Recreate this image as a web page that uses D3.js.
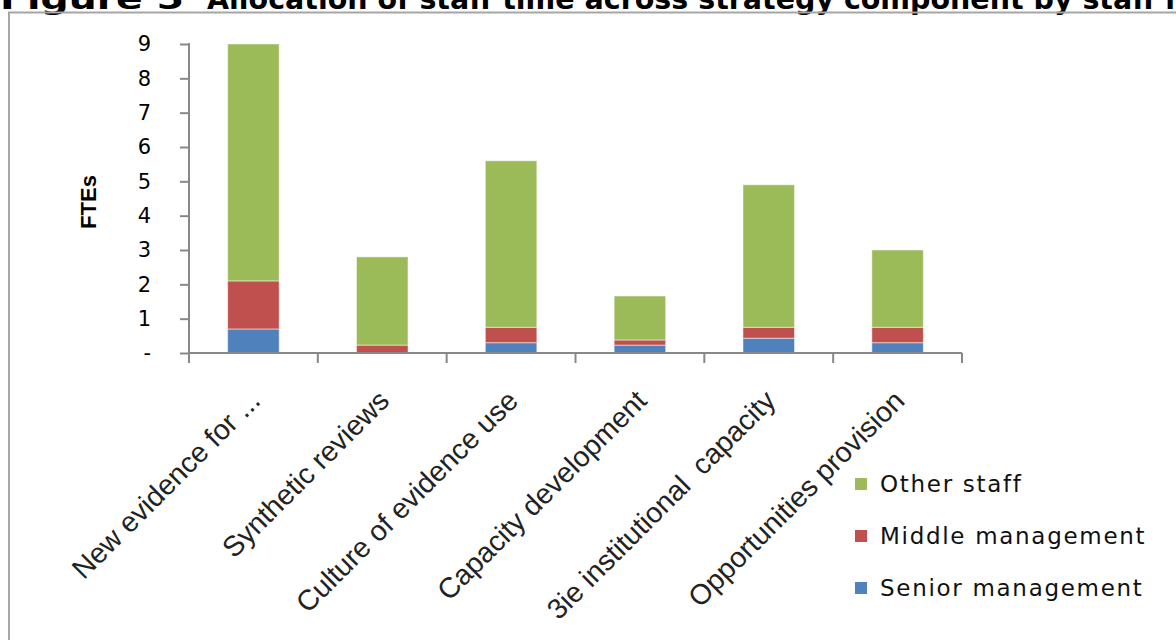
<!DOCTYPE html>
<html>
<head>
<meta charset="utf-8">
<script src="https://cdn.jsdelivr.net/npm/d3@7"></script>
<style>
  body { margin: 0; background: #fff; }
  svg { display: block; }
  text { white-space: pre; }
</style>
</head>
<body>
<div id="chart"></div>
<script>
// chart values
var categories = ["New evidence for ...", "Synthetic reviews", "Culture of evidence use",
    "Capacity development", "3ie institutional  capacity", "Opportunities provision"];
var senior = [0.7, 0, 0.3, 0.23, 0.43, 0.3];
var middle = [1.4, 0.23, 0.45, 0.15, 0.32, 0.45];
var other = [6.9, 2.57, 4.85, 1.28, 4.15, 2.25];
var yTicks = [0, 1, 2, 3, 4, 5, 6, 7, 8, 9];
var seriesNames = ["Senior management", "Middle management", "Other staff"];

var width = 1176, height = 640;
var plot = { left: 189, right: 962, top: 44, bottom: 353 };

var svg = d3.select("#chart").append("svg")
    .attr("width", width)
    .attr("height", height);

// title, mostly cut off by the top edge
svg.append("text")
    .attr("x", 0)
    .attr("y", 9)
    .attr("textLength", 184)
    .attr("lengthAdjust", "spacingAndGlyphs")
    .attr("font-family", "DejaVu Sans")
    .attr("font-weight", "bold")
    .attr("font-size", 29)
    .text("Figure 5");
svg.append("text")
    .attr("x", 207)
    .attr("y", 9)
    .attr("font-family", "DejaVu Sans")
    .attr("font-weight", "bold")
    .attr("font-size", 28.5)
    .text("Allocation of staff time across strategy component by staff level");

// chart frame
svg.append("rect")
    .attr("x", 9)
    .attr("y", 12.5)
    .attr("width", 1300)
    .attr("height", 800)
    .attr("fill", "none")
    .attr("stroke", "#a6a6a6")
    .attr("stroke-width", 2);

var table = categories.map(function (c, i) {
    return { cat: c, "Senior management": senior[i], "Middle management": middle[i], "Other staff": other[i] };
});
var stacked = d3.stack().keys(seriesNames)(table);

var color = d3.scaleOrdinal()
    .domain(seriesNames)
    .range(["#4f81bd", "#c0504d", "#9bbb59"]);

var x = d3.scaleBand()
    .domain(categories)
    .range([plot.left, plot.right])
    .paddingInner(0.6)
    .paddingOuter(0.3);

var y = d3.scaleLinear()
    .domain([0, 9])
    .range([plot.bottom, plot.top]);

// bars
svg.append("g").selectAll("g")
    .data(stacked)
    .enter()
    .append("g")
    .attr("fill", function (d) { return color(d.key); })
    .selectAll("rect")
    .data(function (d) { return d; })
    .enter()
    .append("rect")
    .attr("x", function (d) { return x(d.data.cat); })
    .attr("width", x.bandwidth())
    .attr("y", function (d) { return y(d[1]); })
    .attr("height", function (d) { return y(d[0]) - y(d[1]); })
    .attr("stroke", "#ffffff")
    .attr("stroke-opacity", 0.5)
    .attr("stroke-width", 1);

// y axis
var yAxis = d3.axisLeft(y)
    .tickValues(yTicks)
    .tickFormat(function (d) { return d === 0 ? "-" : d; })
    .tickSize(9)
    .tickPadding(29);

var gy = svg.append("g")
    .attr("transform", "translate(" + plot.left + ",0)")
    .call(yAxis);
gy.select(".domain").remove();
gy.selectAll("line").attr("stroke", "#888").attr("stroke-width", 2);
gy.selectAll("text")
    .attr("font-family", "DejaVu Sans")
    .attr("font-size", 21)
    .attr("fill", "#000");
gy.append("line")
    .attr("x1", 0).attr("x2", 0)
    .attr("y1", plot.top - 1).attr("y2", plot.bottom + 10)
    .attr("stroke", "#888")
    .attr("stroke-width", 2);

// x axis, ticks between categories
var half = (x.step() - x.bandwidth()) / 2;
var bounds = categories.map(function (c) { return x(c) - half; });
bounds.push(x(categories[categories.length - 1]) + x.bandwidth() + half);

var gx = svg.append("g");
gx.append("line")
    .attr("x1", plot.left).attr("x2", plot.right)
    .attr("y1", plot.bottom).attr("y2", plot.bottom)
    .attr("stroke", "#888")
    .attr("stroke-width", 2);
gx.selectAll(".xtick")
    .data(bounds)
    .enter()
    .append("line")
    .attr("class", "xtick")
    .attr("x1", function (d) { return d; })
    .attr("x2", function (d) { return d; })
    .attr("y1", plot.bottom)
    .attr("y2", plot.bottom + 10)
    .attr("stroke", "#888")
    .attr("stroke-width", 2);

gx.selectAll(".xlabel")
    .data(categories)
    .enter()
    .append("text")
    .attr("class", "xlabel")
    .attr("transform", function (d) {
        return "translate(" + (x(d) + x.bandwidth() / 2 - 6) + ",388) rotate(-45)";
    })
    .attr("dy", "0.72em")
    .attr("text-anchor", "end")
    .attr("font-family", "Liberation Sans")
    .attr("font-size", 28.5)
    .attr("fill", "#222")
    .text(function (d) { return d; });

// y axis title
svg.append("text")
    .attr("transform", "translate(96,202) rotate(-90)")
    .attr("text-anchor", "middle")
    .attr("font-family", "Liberation Sans")
    .attr("font-weight", "bold")
    .attr("font-size", 22)
    .text("FTEs");

// legend
var legendNames = seriesNames.slice().reverse();
var legend = svg.selectAll(".legend")
    .data(legendNames)
    .enter()
    .append("g")
    .attr("class", "legend")
    .attr("transform", function (d, i) { return "translate(855," + (478 + i * 52) + ")"; });
legend.append("rect")
    .attr("width", 12)
    .attr("height", 12)
    .attr("fill", function (d) { return color(d); });
legend.append("text")
    .attr("x", 25)
    .attr("y", 14)
    .attr("font-family", "DejaVu Sans")
    .attr("font-size", 23)
    .attr("letter-spacing", 1.7)
    .attr("fill", "#111")
    .text(function (d) { return d; });
</script>
</body>
</html>
